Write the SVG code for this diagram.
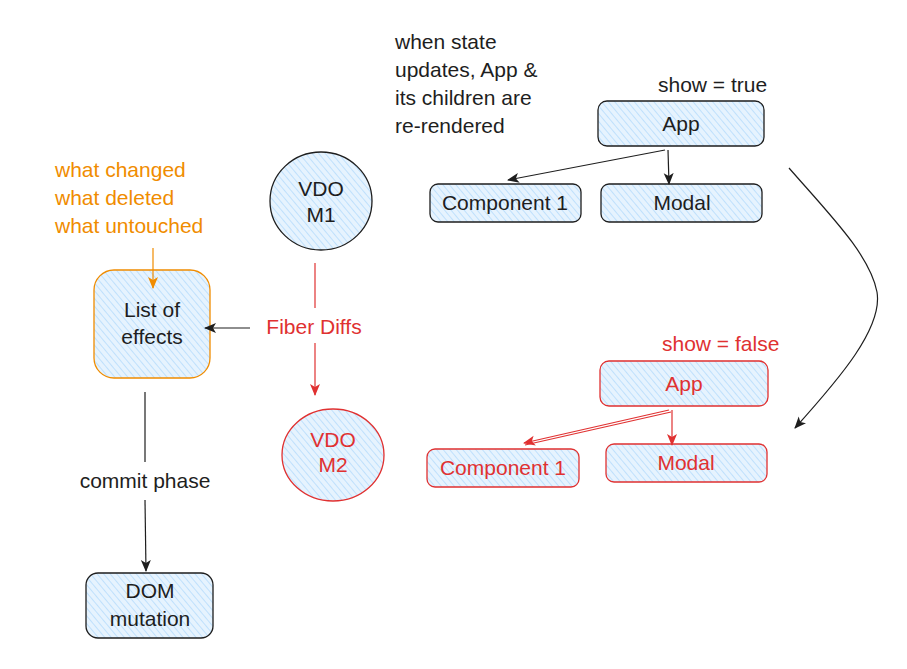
<svg xmlns="http://www.w3.org/2000/svg" width="907" height="669" viewBox="0 0 907 669">
<defs>
<pattern id="hatch" patternUnits="userSpaceOnUse" width="5" height="5" patternTransform="rotate(-40)">
<rect width="5" height="5" fill="#e6f3fe"/>
<line x1="0" y1="0" x2="0" y2="5" stroke="#b5dcfc" stroke-width="1.6"/>
</pattern>
<marker id="ak" viewBox="0 0 12 12" refX="11" refY="6" markerWidth="12" markerHeight="12" markerUnits="userSpaceOnUse" orient="auto">
<path d="M0,1 L12,6 L0,11 L3,6 Z" fill="#1e1e1e"/>
</marker>
<marker id="ar" viewBox="0 0 12 12" refX="11" refY="6" markerWidth="12" markerHeight="12" markerUnits="userSpaceOnUse" orient="auto">
<path d="M0,1 L12,6 L0,11 L3,6 Z" fill="#e03131"/>
</marker>
<marker id="ao" viewBox="0 0 12 12" refX="11" refY="6" markerWidth="12" markerHeight="12" markerUnits="userSpaceOnUse" orient="auto">
<path d="M0,1 L12,6 L0,11 L3,6 Z" fill="#f08c00"/>
</marker>
<style>
text{font-family:"Liberation Sans",Arial,sans-serif;font-size:21px;}
.t{fill:#1e1e1e;text-anchor:middle;}
.tl{fill:#1e1e1e;}
.r{fill:#e03131;}
.o{fill:#f08c00;}
.nk{fill:url(#hatch);stroke:#1e1e1e;stroke-width:1.3;}
.nr{fill:url(#hatch);stroke:#e03131;stroke-width:1.3;}
.no{fill:url(#hatch);stroke:#f08c00;stroke-width:1.3;}
.ck{fill:none;stroke:#1e1e1e;stroke-width:1.2;}
.cr{fill:none;stroke:#e03131;stroke-width:1.2;}
.co{fill:none;stroke:#f08c00;stroke-width:1.2;}
</style>
</defs>
<rect width="907" height="669" fill="#ffffff"/>

<g id="note-rerender">
<text class="tl" x="395" y="49">when state</text>
<text class="tl" x="395" y="77">updates, App &amp;</text>
<text class="tl" x="395" y="105">its children are</text>
<text class="tl" x="395" y="133">re-rendered</text>
</g>

<g id="label-show-true"><text class="tl" x="658" y="92">show = true</text></g>

<g id="app-top">
<rect class="nk" x="598" y="101" width="166" height="45" rx="9"/>
<text class="t" x="681" y="131">App</text>
</g>
<g id="component1-top">
<rect class="nk" x="430" y="184" width="151" height="38" rx="8"/>
<text class="t" x="505" y="210">Component 1</text>
</g>
<g id="modal-top">
<rect class="nk" x="601" y="184" width="161" height="38" rx="8"/>
<text class="t" x="682" y="210">Modal</text>
</g>

<g id="vdo-m1">
<ellipse class="nk" cx="321" cy="201" rx="51" ry="49"/>
<text class="t" x="321" y="196">VDO</text>
<text class="t" x="321" y="222">M1</text>
</g>

<g id="label-fiber-diffs"><text class="r" x="314" y="334" text-anchor="middle">Fiber Diffs</text></g>

<g id="vdo-m2">
<ellipse class="nr" cx="333" cy="455" rx="51" ry="46"/>
<text class="r" x="333" y="447" text-anchor="middle">VDO</text>
<text class="r" x="333" y="472" text-anchor="middle">M2</text>
</g>

<g id="note-effects">
<text class="o" x="55" y="177">what changed</text>
<text class="o" x="55" y="205">what deleted</text>
<text class="o" x="55" y="233">what untouched</text>
</g>

<g id="list-of-effects">
<rect class="no" x="94" y="270" width="116" height="108" rx="20"/>
<text class="t" x="152" y="317">List of</text>
<text class="t" x="152" y="344">effects</text>
</g>

<g id="label-commit"><text class="t" x="145" y="488">commit phase</text></g>

<g id="dom-mutation">
<rect class="nk" x="86" y="573" width="127" height="65" rx="12"/>
<text class="t" x="150" y="598">DOM</text>
<text class="t" x="150" y="626">mutation</text>
</g>

<g id="label-show-false"><text class="r" x="662" y="351">show = false</text></g>

<g id="app-bottom">
<rect class="nr" x="600" y="361" width="168" height="45" rx="9"/>
<text class="r" x="684" y="391" text-anchor="middle">App</text>
</g>
<g id="component1-bottom">
<rect class="nr" x="427" y="449" width="152" height="38" rx="8"/>
<text class="r" x="503" y="475" text-anchor="middle">Component 1</text>
</g>
<g id="modal-bottom">
<rect class="nr" x="606" y="444" width="161" height="38" rx="8"/>
<text class="r" x="686" y="470" text-anchor="middle">Modal</text>
</g>

<g id="connectors">
<path class="ck" d="M665,150 L508,180" marker-end="url(#ak)"/>
<path class="ck" d="M668,150 L669,184" marker-end="url(#ak)"/>
<path class="ck" d="M789,168 C830,215 870,255 877,292 C883,328 840,378 795,428" marker-end="url(#ak)"/>
<path class="cr" d="M315,263 L315,308"/>
<path class="cr" d="M315,343 L315,395" marker-end="url(#ar)"/>
<path class="ck" d="M250,328 L205,328" marker-end="url(#ak)"/>
<path class="co" d="M153,248 L153,288" marker-end="url(#ao)"/>
<path class="ck" d="M145,392 L145,462"/>
<path class="ck" d="M145,500 L146,571" marker-end="url(#ak)"/>
<path class="cr" d="M669,410 L524,443" marker-end="url(#ar)"/>
<path class="cr" d="M671,412 L525,445"/>
<path class="cr" d="M672,410 L672,445" marker-end="url(#ar)"/>
</g>
</svg>
